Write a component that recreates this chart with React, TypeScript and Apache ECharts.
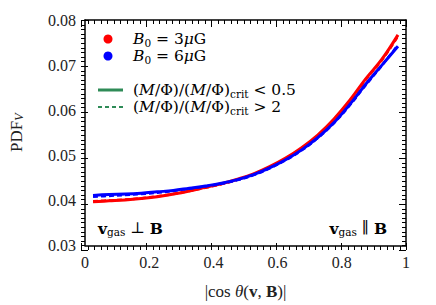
import React, { useEffect, useRef } from "react";
import * as echarts from "echarts";

// |cos theta| bin centres
const cosTheta = [0.025, 0.075, 0.125, 0.175, 0.225, 0.275, 0.325, 0.375, 0.425, 0.475,
  0.525, 0.575, 0.625, 0.675, 0.725, 0.775, 0.825, 0.875, 0.925, 0.975];

// B0 = 3 muG (red)
const pdfB3Sub = [0.0397, 0.0399, 0.0401, 0.0404, 0.0408, 0.0414, 0.0421, 0.0429, 0.0437, 0.0447,
  0.0459, 0.0475, 0.0494, 0.0517, 0.0545, 0.0580, 0.0622, 0.0670, 0.0713, 0.0767];
const pdfB3Super = [0.0398, 0.0400, 0.0402, 0.0405, 0.0409, 0.0414, 0.0421, 0.0428, 0.0436, 0.0446,
  0.0458, 0.0474, 0.0493, 0.0516, 0.0544, 0.0579, 0.0620, 0.0668, 0.0711, 0.0764];

// B0 = 6 muG (blue)
const pdfB6Sub = [0.0411, 0.0413, 0.0414, 0.0416, 0.0419, 0.0422, 0.0427, 0.0432, 0.0438, 0.0446,
  0.0457, 0.0472, 0.0490, 0.0512, 0.0539, 0.0572, 0.0613, 0.0658, 0.0700, 0.0742];
const pdfB6Super = [0.0408, 0.0410, 0.0412, 0.0414, 0.0417, 0.0421, 0.0426, 0.0431, 0.0437, 0.0445,
  0.0456, 0.0471, 0.0489, 0.0511, 0.0538, 0.0571, 0.0611, 0.0656, 0.0699, 0.0745];

const xMin = 0, xMax = 1, xStep = 0.2;
const yMin = 0.03, yMax = 0.08, yStep = 0.01;
const xMajorTicks = [0, 0.2, 0.4, 0.6, 0.8, 1];
const yMajorTicks = [0.03, 0.04, 0.05, 0.06, 0.07, 0.08];
const minorPerMajor = 10;

const GRID = { left: 81, right: 30, top: 20, bottom: 55 };
const W = 436, H = 305;

const FONT = "'Liberation Serif', 'DejaVu Serif', serif";
const LFONT = "'DejaVu Serif', serif";
const TEXT = "#222";
const GREEN = "#2e8b57";

const FS = 17;
const rich = {
  n: { fontFamily: FONT, fontSize: FS, color: TEXT, lineHeight: 20, verticalAlign: "middle" as const },
  it: { fontFamily: FONT, fontSize: FS, color: TEXT, fontStyle: "italic" as const, lineHeight: 20, verticalAlign: "middle" as const },
  b: { fontFamily: FONT, fontSize: FS, color: TEXT, fontWeight: "bold" as const, lineHeight: 20, verticalAlign: "middle" as const },
  subit: { fontFamily: FONT, fontSize: 12, color: TEXT, fontStyle: "italic" as const, lineHeight: 12, verticalAlign: "bottom" as const },
};
const LS = 15.5;
const LTEXT = "#2a2a2a";
const lrich = {
  n: { fontFamily: LFONT, fontSize: LS, color: LTEXT, lineHeight: 18, verticalAlign: "middle" as const },
  it: { fontFamily: LFONT, fontSize: LS, color: LTEXT, fontStyle: "italic" as const, lineHeight: 18, verticalAlign: "middle" as const },
  b: { fontFamily: LFONT, fontSize: LS, color: LTEXT, fontWeight: "bold" as const, lineHeight: 18, verticalAlign: "middle" as const },
  sub: { fontFamily: LFONT, fontSize: 10.5, color: LTEXT, lineHeight: 10, verticalAlign: "bottom" as const },
};

const pair = (ys: number[]) => cosTheta.map((x, i) => [x, ys[i]]);

// tick values with their lengths: [value, length]
function tickList(majors: number[]) {
  const MAJ = 7, MIN = 4;
  const out: number[][] = [];
  majors.forEach((v, i) => {
    out.push([v, MAJ]);
    if (i < majors.length - 1) {
      const step = (majors[i + 1] - v) / minorPerMajor;
      for (let k = 1; k < minorPerMajor; k++) out.push([v + k * step, MIN]);
    }
  });
  return out;
}

function axis(extra: any) {
  return {
    type: "value",
    axisLine: { show: true, onZero: false, lineStyle: { color: "#000", width: 1.5 } },
    axisTick: { show: false },
    splitLine: { show: false },
    ...extra,
  };
}

export default function App() {
  const ref = useRef<HTMLDivElement>(null);
  useEffect(() => {
    const chart = echarts.init(ref.current!, undefined, { renderer: "svg" });
    const labelStyle = { fontFamily: FONT, fontSize: 16, color: TEXT };
    const nameBase = { fontFamily: FONT, fontSize: FS, color: TEXT, rich };
    const line = (name: string, data: number[], color: string, dashed: boolean, z: number) => ({
      type: "line",
      name,
      data: pair(data),
      showSymbol: false,
      symbol: "none",
      smooth: 0.4,
      z,
      lineStyle: { color, width: dashed ? 2.5 : 3, type: dashed ? [5, 3] : "solid" },
    });

    // mirrored inward ticks on all four sides (linear map of the grid box = the axes' scale)
    const gl = GRID.left, gr = W - GRID.right, gt = GRID.top, gb = H - GRID.bottom;
    const px = (v: number) => gl + ((v - xMin) / (xMax - xMin)) * (gr - gl);
    const py = (v: number) => gb - ((v - yMin) / (yMax - yMin)) * (gb - gt);
    const crisp = (c: number) => Math.round(c) + 0.5;
    const ticks: any[] = [];
    tickList(xMajorTicks).forEach(([v, len]) => {
      const x = crisp(px(v));
      ticks.push({ type: "line", shape: { x1: x, y1: gb, x2: x, y2: gb - len }, style: { stroke: "#000", lineWidth: 1 } });
      ticks.push({ type: "line", shape: { x1: x, y1: gt, x2: x, y2: gt + len }, style: { stroke: "#000", lineWidth: 1 } });
    });
    tickList(yMajorTicks).forEach(([v, len]) => {
      const y = crisp(py(v));
      ticks.push({ type: "line", shape: { x1: gl, y1: y, x2: gl + len, y2: y }, style: { stroke: "#000", lineWidth: 1 } });
      ticks.push({ type: "line", shape: { x1: gr, y1: y, x2: gr - len, y2: y }, style: { stroke: "#000", lineWidth: 1 } });
    });

    chart.setOption({
      animation: false,
      grid: GRID,
      xAxis: [
        axis({
          min: xMin, max: xMax, interval: xStep, position: "bottom",
          axisLabel: { ...labelStyle, margin: 9 },
          name: "|cos {it|θ}{n|(}{b|v}{n|, }{b|B}{n|)}|",
          nameLocation: "middle",
          nameGap: 36,
          nameTextStyle: nameBase,
        }),
        axis({ min: xMin, max: xMax, interval: xStep, position: "top", axisLabel: { show: false } }),
      ],
      yAxis: [
        axis({
          min: yMin, max: yMax, interval: yStep, position: "left",
          axisLabel: { ...labelStyle, margin: 9 },
          name: "PDF{subit|V}",
          nameLocation: "middle",
          nameGap: 60,
          nameRotate: 90,
          nameTextStyle: nameBase,
        }),
        axis({ min: yMin, max: yMax, interval: yStep, position: "right", axisLabel: { show: false } }),
      ],
      series: [
        line("B3 sub", pdfB3Sub, "#ff0000", false, 2),
        line("B3 super", pdfB3Super, "#ff0000", true, 3),
        line("B6 sub", pdfB6Sub, "#0000ff", false, 4),
        line("B6 super", pdfB6Super, "#0000ff", true, 5),
      ],
      graphic: [
        ...ticks,
        { type: "circle", shape: { cx: 108, cy: 39, r: 4.5 }, style: { fill: "#ff0000" } },
        { type: "circle", shape: { cx: 108, cy: 56, r: 4.5 }, style: { fill: "#0000ff" } },
        { type: "line", shape: { x1: 98, y1: 90, x2: 123, y2: 90 }, style: { stroke: GREEN, lineWidth: 3 } },
        { type: "line", shape: { x1: 98, y1: 107, x2: 123, y2: 107 }, style: { stroke: GREEN, lineWidth: 2, lineDash: [4, 3] } },
        { type: "text", x: 133, y: 39, style: { text: "{it|B}{sub|0}{n| = 3}{it|μ}{n|G}", rich: lrich, verticalAlign: "middle" } },
        { type: "text", x: 133, y: 56, style: { text: "{it|B}{sub|0}{n| = 6}{it|μ}{n|G}", rich: lrich, verticalAlign: "middle" } },
        { type: "text", x: 133, y: 90, style: { text: "{n|(}{it|M}{n|/Φ)/(}{it|M}{n|/Φ)}{sub|crit}{n| < 0.5}", rich: lrich, verticalAlign: "middle" } },
        { type: "text", x: 133, y: 107, style: { text: "{n|(}{it|M}{n|/Φ)/(}{it|M}{n|/Φ)}{sub|crit}{n| > 2}", rich: lrich, verticalAlign: "middle" } },
        { type: "text", x: 98, y: 228, style: { text: "{b|v}{sub|gas}{n| ⊥ }{b|B}", rich: lrich, verticalAlign: "middle" } },
        { type: "text", x: 387, y: 228, style: { text: "{b|v}{sub|gas}{n| ∥ }{b|B}", rich: lrich, align: "right", verticalAlign: "middle" } },
      ],
    });
    return () => chart.dispose();
  }, []);
  return <div ref={ref} style={{ position: "fixed", left: 0, top: 0, width: W, height: H, background: "#fff" }} />;
}
